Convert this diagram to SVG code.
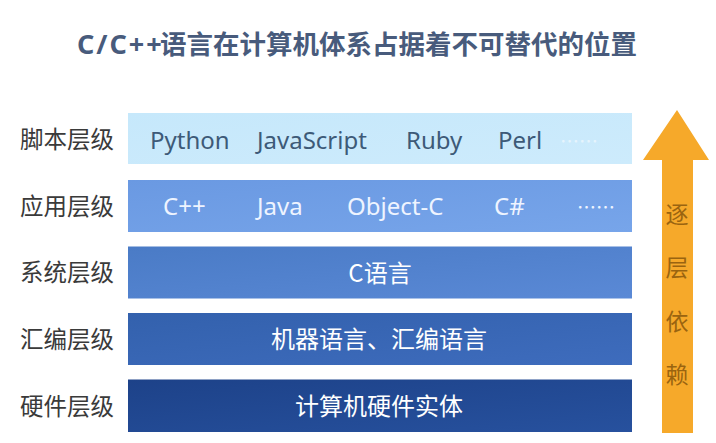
<svg xmlns="http://www.w3.org/2000/svg" width="716" height="443" viewBox="0 0 716 443">
<defs>
<style>
.lbl{font-family:"Noto Sans CJK SC","Noto Sans",sans-serif;font-size:23.5px;fill:#3a3a3a}
.lat{font-family:"Noto Sans","Open Sans","Noto Sans CJK SC",sans-serif;font-size:24px}
.cjk{font-family:"Noto Sans CJK SC",sans-serif;font-size:24px;fill:#ffffff}
.arw{font-family:"Noto Sans CJK SC",sans-serif;font-size:23px;fill:#9a6410;text-anchor:middle}
.dots{font-family:"Noto Sans CJK SC",sans-serif;font-size:19px}
</style>
<linearGradient id="g1" x1="0" y1="0" x2="1" y2="1"><stop offset="0" stop-color="#c6e8fb"/><stop offset="1" stop-color="#cdebfc"/></linearGradient>
<linearGradient id="g2" x1="0" y1="0" x2="1" y2="1"><stop offset="0" stop-color="#6a99e2"/><stop offset="1" stop-color="#77a5ea"/></linearGradient>
<linearGradient id="g3" x1="0" y1="0" x2="1" y2="1"><stop offset="0" stop-color="#4a7bc6"/><stop offset="1" stop-color="#5a89d6"/></linearGradient>
<linearGradient id="g4" x1="0" y1="0" x2="1" y2="1"><stop offset="0" stop-color="#3361ad"/><stop offset="1" stop-color="#3e6cbd"/></linearGradient>
<linearGradient id="g5" x1="0" y1="0" x2="1" y2="1"><stop offset="0" stop-color="#1d4289"/><stop offset="1" stop-color="#27519e"/></linearGradient>
</defs>
<rect width="716" height="443" fill="#ffffff"/>
<g id="title">
<text x="77" y="54" style="font-family:'Noto Sans','Noto Sans CJK SC',sans-serif;font-size:27px;font-weight:bold;fill:#485b7c"><tspan letter-spacing="2">C/C++</tspan><tspan x="160" style="font-family:'Noto Sans CJK SC',sans-serif;font-size:26.5px">语言在计算机体系占据着不可替代的位置</tspan></text>
</g>
<g id="script-layer">
<rect x="128" y="113" width="504" height="51" fill="url(#g1)"/>
<text class="lbl" x="20" y="148">脚本层级</text>
<g class="lat" fill="#3d5a78">
<text x="150" y="149">Python</text>
<text x="257" y="149">JavaScript</text>
<text x="406" y="149">Ruby</text>
<text x="498" y="149">Perl</text>
</g>
<text class="dots" x="560" y="149" fill="#e6f4fd">……</text>
</g>
<g id="app-layer">
<rect x="128" y="180" width="504" height="52" fill="url(#g2)"/>
<text class="lbl" x="20" y="215">应用层级</text>
<g class="lat" fill="#eef4ff">
<text x="163" y="215">C++</text>
<text x="257" y="215">Java</text>
<text x="347" y="215">Object-C</text>
<text x="494" y="215">C#</text>
</g>
<text class="dots" x="577" y="215" fill="#eef4ff">……</text>
</g>
<g id="sys-layer">
<rect x="128" y="246.5" width="504" height="52" fill="url(#g3)"/>
<text class="lbl" x="20" y="281">系统层级</text>
<text class="cjk" x="380" y="282" text-anchor="middle">C语言</text>
</g>
<g id="asm-layer">
<rect x="128" y="313" width="504" height="52" fill="url(#g4)"/>
<text class="lbl" x="20" y="348">汇编层级</text>
<text class="cjk" x="379" y="348" text-anchor="middle">机器语言、汇编语言</text>
</g>
<g id="hw-layer">
<rect x="128" y="379.5" width="504" height="52.5" fill="url(#g5)"/>
<text class="lbl" x="20" y="415">硬件层级</text>
<text class="cjk" x="379" y="415" text-anchor="middle">计算机硬件实体</text>
</g>
<g id="connectors">
<polygon points="677,110 709,160 693,160 693,433 662,433 662,160 643,160" fill="#f6a92a"/>
<text class="arw" x="677" y="223">逐</text>
<text class="arw" x="677" y="276">层</text>
<text class="arw" x="677" y="330">依</text>
<text class="arw" x="677" y="383">赖</text>
</g>
</svg>
